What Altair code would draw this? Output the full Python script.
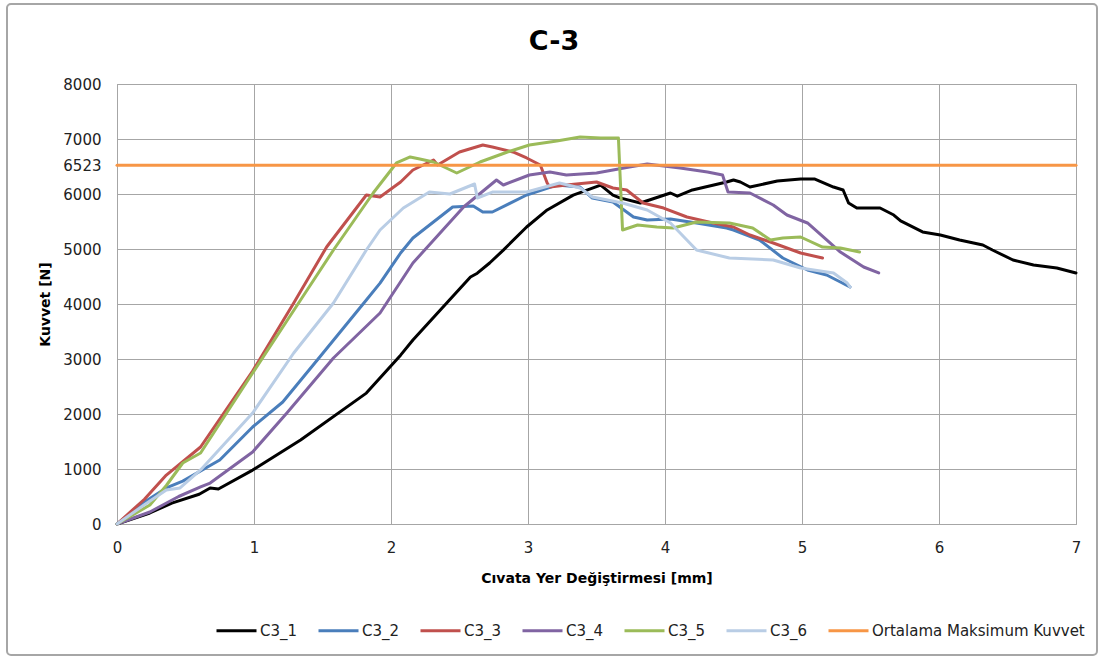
import altair as alt
import pandas as pd

FONT = "DejaVu Sans"

series_names = ["C3_1", "C3_2", "C3_3", "C3_4", "C3_5", "C3_6", "Ortalama Maksimum Kuvvet"]
series_colors = ["#000000", "#4A7EBB", "#C0504D", "#8064A2", "#9BBB59", "#B9CDE5", "#F79646"]
series_widths = [3, 3, 3, 3, 3, 3, 2.2]

c1_x = [0, 0.24, 0.4, 0.6, 0.68, 0.74, 0.99, 1.34, 1.82, 2.07, 2.16, 2.58, 2.63, 2.72, 2.82, 2.99, 3.14, 3.33,
        3.53, 3.62, 3.67, 3.82, 4.04, 4.09, 4.20, 4.45, 4.50, 4.55, 4.62, 4.82, 4.99, 5.09, 5.23, 5.30, 5.34,
        5.40, 5.57, 5.67, 5.72, 5.88, 6.01, 6.15, 6.32, 6.39, 6.54, 6.69, 6.86, 7.0]
c1_y = [0, 200, 380, 540, 655, 636, 980, 1527, 2380, 3070, 3345, 4490, 4560, 4745, 4980, 5400, 5710, 5980,
        6160, 5980, 5930, 5836, 6018, 5960, 6073, 6218, 6255, 6218, 6127, 6236, 6273, 6273, 6127, 6073, 5836,
        5745, 5745, 5618, 5510, 5310, 5255, 5164, 5073, 4982, 4800, 4710, 4655, 4564]

c2_x = [0, 0.2, 0.36, 0.48, 0.75, 0.99, 1.21, 1.48, 1.82, 1.92, 2.07, 2.16, 2.45, 2.60, 2.67, 2.74, 2.99, 3.21,
        3.38, 3.47, 3.62, 3.77, 3.87, 4.04, 4.23, 4.45, 4.50, 4.69, 4.86, 5.04, 5.18, 5.28, 5.35]
c2_y = [0, 400, 655, 780, 1164, 1764, 2218, 3036, 4073, 4380, 4927, 5200, 5764, 5782, 5673, 5673, 5982, 6164,
        6127, 5927, 5855, 5582, 5527, 5545, 5473, 5382, 5345, 5164, 4836, 4618, 4527, 4400, 4310]

c3_x = [0, 0.2, 0.36, 0.61, 0.99, 1.29, 1.53, 1.82, 1.92, 2.07, 2.16, 2.31, 2.34, 2.50, 2.67, 2.74, 2.89, 2.99,
        3.09, 3.14, 3.16, 3.28, 3.50, 3.62, 3.72, 3.84, 3.99, 4.16, 4.35, 4.50, 4.62, 4.79, 4.99, 5.15]
c3_y = [0, 450, 890, 1400, 2780, 4018, 5036, 5982, 5945, 6218, 6436, 6618, 6527, 6764, 6890, 6855, 6764, 6655,
        6527, 6200, 6127, 6164, 6218, 6109, 6073, 5836, 5745, 5582, 5473, 5400, 5255, 5109, 4927, 4836]

c4_x = [0, 0.24, 0.45, 0.61, 0.68, 0.99, 1.24, 1.58, 1.92, 2.16, 2.53, 2.77, 2.82, 3.01, 3.16, 3.28, 3.50, 3.74,
        3.87, 4.11, 4.31, 4.42, 4.46, 4.62, 4.79, 4.89, 5.04, 5.18, 5.28, 5.45, 5.56]
c4_y = [0, 218, 500, 673, 745, 1310, 2018, 3018, 3836, 4745, 5764, 6255, 6164, 6345, 6400, 6345, 6382, 6491,
        6545, 6473, 6400, 6345, 6036, 6018, 5800, 5618, 5473, 5164, 4945, 4673, 4564]

c5_x = [0, 0.24, 0.36, 0.48, 0.61, 0.99, 1.34, 1.58, 1.87, 2.04, 2.14, 2.21, 2.31, 2.48, 2.65, 2.85, 3.01, 3.21,
        3.38, 3.53, 3.66, 3.69, 3.80, 3.94, 4.06, 4.23, 4.47, 4.64, 4.77, 4.86, 4.99, 5.15, 5.28, 5.42]
c5_y = [0, 345, 700, 1109, 1290, 2745, 4073, 4982, 6018, 6564, 6673, 6636, 6582, 6382, 6582, 6764, 6890, 6964,
        7036, 7018, 7018, 5345, 5436, 5400, 5382, 5490, 5473, 5382, 5164, 5200, 5218, 5036, 5018, 4945]

c6_x = [0, 0.2, 0.36, 0.46, 0.61, 0.99, 1.29, 1.58, 1.82, 1.92, 2.09, 2.28, 2.43, 2.61, 2.63, 2.74, 2.99, 3.23,
        3.38, 3.47, 3.69, 3.87, 4.04, 4.23, 4.47, 4.79, 4.99, 5.23, 5.33, 5.35]
c6_y = [0, 350, 618, 655, 982, 2018, 3109, 4018, 4982, 5345, 5745, 6036, 6000, 6182, 5927, 6036, 6036, 6200,
        6109, 5945, 5836, 5709, 5473, 4982, 4836, 4800, 4655, 4564, 4382, 4310]

mean_x = [0, 7]
mean_y = [6523, 6523]

x_ticks = [0, 1, 2, 3, 4, 5, 6, 7]
y_ticks = [0, 1000, 2000, 3000, 4000, 5000, 6000, 6523, 7000, 8000]
chart_title = ["C-3"]

rows = []
for name, xs, ys in zip(series_names,
                        [c1_x, c2_x, c3_x, c4_x, c5_x, c6_x, mean_x],
                        [c1_y, c2_y, c3_y, c4_y, c5_y, c6_y, mean_y]):
    for i, (a, b) in enumerate(zip(xs, ys)):
        rows.append({"s": name, "x": a, "y": b, "i": i})
df = pd.DataFrame(rows)

lines = alt.Chart(df).mark_line(strokeJoin="round", strokeCap="round").encode(
    x=alt.X("x:Q", scale=alt.Scale(domain=[0, 7], nice=False),
            axis=alt.Axis(values=x_ticks, title="Cıvata Yer Değiştirmesi [mm]", format="d",
                          labelFlush=False, titleY=54, titleBaseline="middle")),
    y=alt.Y("y:Q", scale=alt.Scale(domain=[0, 8000], nice=False),
            axis=alt.Axis(values=y_ticks, title="Kuvvet [N]", format="d", labelFlush=False,
                          titleX=-72, titleY=220, titleAlign="center", titleBaseline="middle")),
    color=alt.Color("s:N", scale=alt.Scale(domain=series_names, range=series_colors),
                    legend=alt.Legend(title=None, orient="none", direction="horizontal",
                                      legendX=98, legendY=525, symbolType="stroke",
                                      symbolStrokeWidth=3.5, symbolSize=1600,
                                      labelOffset=2, columnPadding=14, labelLimit=400,
                                      labelFontSize=15, labelFont=FONT, labelColor="#222222")),
    strokeWidth=alt.StrokeWidth("s:N", scale=alt.Scale(domain=series_names, range=series_widths),
                                legend=None),
    order="i:Q",
)

title_df = pd.DataFrame({"t": chart_title})
title_mark = alt.Chart(title_df).mark_text(
    font=FONT, fontSize=27, fontWeight="bold", color="#000000", align="center", baseline="alphabetic"
).encode(text="t:N", x=alt.value(437), y=alt.value(-34))

frame = alt.Chart(pd.DataFrame({"a": [0]})).mark_rect(
    fill=None, stroke="#A6A6A6", strokeWidth=2, cornerRadius=4
).encode(x=alt.value(-110), x2=alt.value(980), y=alt.value(-80), y2=alt.value(571))

chart = alt.layer(lines, title_mark, frame).properties(
    width=959, height=440,
    padding={"left": 117, "top": 84, "right": 27, "bottom": 137},
    autosize=alt.AutoSizeParams(type="none"),
    background="white",
).configure_axis(
    grid=True, gridColor="#A6A6A6", gridWidth=1, domainColor="#A6A6A6", domainWidth=1,
    ticks=False, labelFont=FONT, labelFontSize=15, labelColor="#222222",
    titleFont=FONT, titleFontSize=14, titleFontWeight="bold", titleColor="#000000",
).configure_axisY(labelPadding=16).configure_axisX(labelPadding=16).configure_view(
    stroke="#A6A6A6"
)

chart.save("out.html", embed_options={"renderer": "svg", "actions": False})
